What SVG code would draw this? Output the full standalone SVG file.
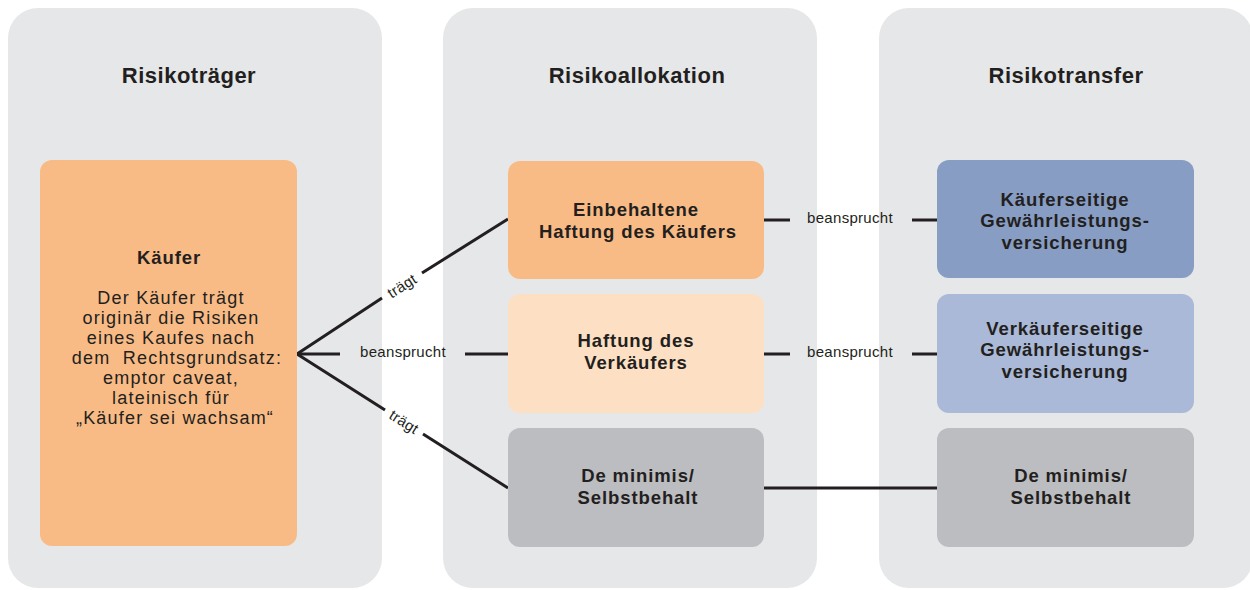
<svg xmlns="http://www.w3.org/2000/svg" width="1250" height="590" viewBox="0 0 1250 590">
<style>
.panel{fill:#e6e7e8}
.t{font-family:"Liberation Sans",Arial,sans-serif;fill:#231f20}
.title{font-size:22px;font-weight:700;text-anchor:middle;letter-spacing:0.5px}
.lbl{font-size:18.5px;font-weight:700;text-anchor:middle;letter-spacing:0.9px}
.desc{font-size:18px;text-anchor:middle;letter-spacing:1.2px;white-space:pre}
.con{font-size:15px;text-anchor:middle;letter-spacing:0.3px}
.ln{stroke:#231f20;stroke-width:3;fill:none}
</style>
<rect width="1250" height="590" fill="#ffffff"/>
<g id="panel-risikotraeger">
<rect class="panel" x="8" y="8" width="374" height="580" rx="30"/>
<text class="t title" x="189" y="83">Risikoträger</text>
</g>
<g id="panel-risikoallokation">
<rect class="panel" x="443" y="8" width="374" height="580" rx="30"/>
<text class="t title" x="637" y="83">Risikoallokation</text>
</g>
<g id="panel-risikotransfer">
<rect class="panel" x="879" y="8" width="374" height="580" rx="30"/>
<text class="t title" x="1066" y="83">Risikotransfer</text>
</g>
<g id="connectors">
<path class="ln" d="M297 354 L382 298 M422 273 L508 219"/>
<path class="ln" d="M297 354 L385 410 M423 434 L508 488"/>
<path class="ln" d="M297 354 H340 M465 354 H508"/>
<path class="ln" d="M764 220 H790 M912 220 H937"/>
<path class="ln" d="M764 354 H790 M912 354 H937"/>
<path class="ln" d="M764 488 H937"/>
<text class="t con" transform="translate(402 286) rotate(-32.5)" y="5">trägt</text>
<text class="t con" transform="translate(404 422) rotate(32.5)" y="5">trägt</text>
<text class="t con" x="403" y="357">beansprucht</text>
<text class="t con" x="850" y="223">beansprucht</text>
<text class="t con" x="850" y="357">beansprucht</text>
</g>
<g id="node-kaeufer">
<rect x="40" y="160" width="257" height="386" rx="12" fill="#f9bb85"/>
<text class="t lbl" x="169" y="264">Käufer</text>
<text class="t desc" xml:space="preserve"><tspan x="171" y="304">Der Käufer trägt</tspan><tspan x="171" y="324">originär die Risiken</tspan><tspan x="171" y="344">eines Kaufes nach</tspan><tspan x="177" y="364">dem  Rechtsgrundsatz:</tspan><tspan x="171" y="384">emptor caveat,</tspan><tspan x="171" y="404">lateinisch für</tspan><tspan x="175" y="424">„Käufer sei wachsam“</tspan></text>
</g>
<g id="node-einbehaltene-haftung">
<rect x="508" y="161" width="256" height="118" rx="12" fill="#f9bb85"/>
<text class="t lbl"><tspan x="636" y="216">Einbehaltene</tspan><tspan x="638" y="237.5">Haftung des Käufers</tspan></text>
</g>
<g id="node-haftung-verkaeufer">
<rect x="508" y="294" width="256" height="119" rx="12" fill="#fde0c3"/>
<text class="t lbl"><tspan x="636" y="347">Haftung des</tspan><tspan x="636" y="368.5">Verkäufers</tspan></text>
</g>
<g id="node-de-minimis-1">
<rect x="508" y="428" width="256" height="119" rx="12" fill="#bcbdc0"/>
<text class="t lbl"><tspan x="638" y="482">De minimis/</tspan><tspan x="638" y="503.5">Selbstbehalt</tspan></text>
</g>
<g id="node-kaeuferseitige">
<rect x="937" y="160" width="257" height="118" rx="12" fill="#879dc3"/>
<text class="t lbl"><tspan x="1065" y="205.5">Käuferseitige</tspan><tspan x="1065" y="227">Gewährleistungs-</tspan><tspan x="1065" y="248.5">versicherung</tspan></text>
</g>
<g id="node-verkaeuferseitige">
<rect x="937" y="294" width="257" height="119" rx="12" fill="#a9b9d7"/>
<text class="t lbl"><tspan x="1065" y="334.5">Verkäuferseitige</tspan><tspan x="1065" y="356">Gewährleistungs-</tspan><tspan x="1065" y="377.5">versicherung</tspan></text>
</g>
<g id="node-de-minimis-2">
<rect x="937" y="428" width="257" height="119" rx="12" fill="#bcbdc0"/>
<text class="t lbl"><tspan x="1071" y="482">De minimis/</tspan><tspan x="1071" y="503.5">Selbstbehalt</tspan></text>
</g>
</svg>
